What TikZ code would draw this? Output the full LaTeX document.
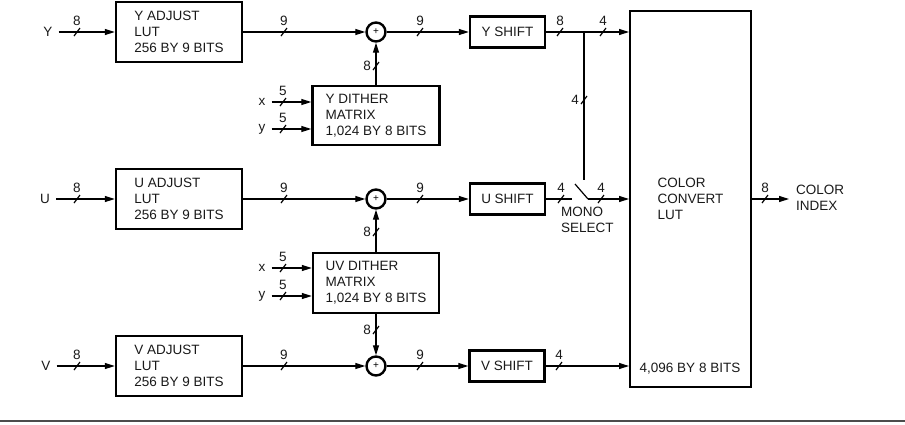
\documentclass[tikz,border=0pt]{standalone}
\usepackage{fontspec}
\setmainfont{Liberation Sans}
\usetikzlibrary{arrows.meta}
\begin{document}
\begin{tikzpicture}[x=1pt,y=-1pt,
  wire/.style={line width=1.2pt},
  arr/.style={wire,-{Triangle[length=10pt,width=6pt]}},
  txt/.style={font=\fontsize{13.5}{16}\selectfont, text=black!90},
  box/.style={txt, draw, line width=2.4pt, align=left, inner sep=0pt},
  sbox/.style={txt, draw, line width=2.4pt, minimum width=75pt, minimum height=31pt, inner sep=0pt},
  sum/.style={circle, draw, line width=2.4pt, minimum size=19pt, inner sep=0pt, font=\fontsize{10}{10}\selectfont},
  lab/.style={txt, inner sep=0pt},
  pics/bus/.style={code={\draw[wire] (-3,4)--(3,-4); \node[lab, anchor=south] at (0,-6) {#1};}},
  pics/vbus/.style={code={\draw[wire] (-3,4)--(3,-4); \node[lab, anchor=east] at (-5,0) {#1};}},
]
\useasboundingbox (0,0) rectangle (905,424);

% ---------- Y row ----------
\node[lab] (Ylab) at (48,32) {Y};
\node[box, minimum width=126pt, minimum height=60pt] (Yadj) at (179,32) {Y ADJUST\\LUT\\256 BY 9 BITS};
\node[sum] (Ysum) at (376,32) {+};
\node[sbox] (Yshift) at (507.5,32) {Y SHIFT};
\node[box, minimum width=127pt, minimum height=59pt] (Yd) at (376,115.5) {Y DITHER\\MATRIX\\1,024 BY 8 BITS};
\node[lab] (xa) at (262,102) {x};
\node[lab] (ya) at (262,129) {y};

% ---------- U row ----------
\node[lab] (Ulab) at (45,199) {U};
\node[box, minimum width=126pt, minimum height=60pt] (Uadj) at (179,199) {U ADJUST\\LUT\\256 BY 9 BITS};
\node[sum] (Usum) at (376,199) {+};
\node[sbox] (Ushift) at (507.5,199) {U SHIFT};
\node[box, minimum width=126pt, minimum height=60pt] (UVd) at (376,283) {UV DITHER\\MATRIX\\1,024 BY 8 BITS};
\node[lab] (xb) at (262,268) {x};
\node[lab] (yb) at (262,296) {y};

% ---------- V row ----------
\node[lab] (Vlab) at (46,366) {V};
\node[box, minimum width=126pt, minimum height=60pt] (Vadj) at (179,366) {V ADJUST\\LUT\\256 BY 9 BITS};
\node[sum] (Vsum) at (376,366) {+};
\node[sbox] (Vshift) at (507,366) {V SHIFT};

% ---------- colour convert ----------
\node[txt, draw, line width=2pt, minimum width=121pt, minimum height=376pt, align=left, inner sep=0pt] (CC) at (690.5,199) {COLOR\\CONVERT\\LUT};
\node[lab] (CCsize) at (690,369) {4,096 BY 8 BITS};
\node[lab, anchor=west, align=left] (CI) at (796,198) {COLOR\\INDEX};
\node[lab, anchor=north west, align=left] (MS) at (561,207) {MONO\\SELECT};

% ---------- connectors ----------
\foreach \l/\a in {Ylab/Yadj, Ulab/Uadj, Vlab/Vadj}
  \draw[arr] ([xshift=6pt]\l.east) -- (\a);
\foreach \a/\s/\t in {Yadj/Ysum/Yshift, Uadj/Usum/Ushift, Vadj/Vsum/Vshift}{
  \draw[arr] (\a) -- (\s);
  \draw[arr] (\s) -- (\t);
}
\foreach \yy in {32,199,366}{
  \pic at (77,\yy) {bus=8};
  \pic at (284,\yy) {bus=9};
  \pic at (420,\yy) {bus=9};
}

% dither inputs
\draw[arr] ([xshift=6pt]xa.east) -- (xa -| Yd.west);
\draw[arr] ([xshift=6pt]ya.east) -- (ya -| Yd.west);
\draw[arr] ([xshift=6pt]xb.east) -- (xb -| UVd.west);
\draw[arr] ([xshift=6pt]yb.east) -- (yb -| UVd.west);
\pic at (283,102) {bus=5};
\pic at (283,129) {bus=5};
\pic at (283,268) {bus=5};
\pic at (283,296) {bus=5};

% dither outputs
\draw[arr] (Yd) -- (Ysum);
\draw[arr] (UVd) -- (Usum);
\draw[arr] (UVd) -- (Vsum);
\pic at (376,66) {vbus=8};
\pic at (376,232) {vbus=8};
\pic at (376,330) {vbus=8};

% Y shift out and mono tap
\coordinate (J) at (584,32);
\coordinate (Jb) at (584,180);
\draw[arr] (Yshift) -- (Yshift -| CC.west);
\draw[wire] (J) -- (Jb);
\pic at (560,32) {bus=8};
\pic at (603,32) {bus=4};
\pic at (584,100) {vbus=4};

% U shift out with mono select switch
\coordinate (Sa) at (572,199);
\coordinate (Sb) at (575,184);
\coordinate (Sc) at (588,199);
\draw[wire] (Ushift) -- (Sa);
\draw[wire] (Sb) -- (Sc);
\draw[arr] (Sc) -- (Sc -| CC.west);
\pic at (561,199) {bus=4};
\pic at (601,199) {bus=4};

% V shift out
\draw[arr] (Vshift) -- (Vshift -| CC.west);
\pic at (559,366) {bus=4};

% output
\draw[arr] (CC.east) -- ([xshift=-7pt,yshift=-1pt]CI.west);
\pic at (765,199) {bus=8};

% bottom rule
\draw[line width=1.6pt, black!70] (0,421) -- (905,421);
\end{tikzpicture}
\end{document}
